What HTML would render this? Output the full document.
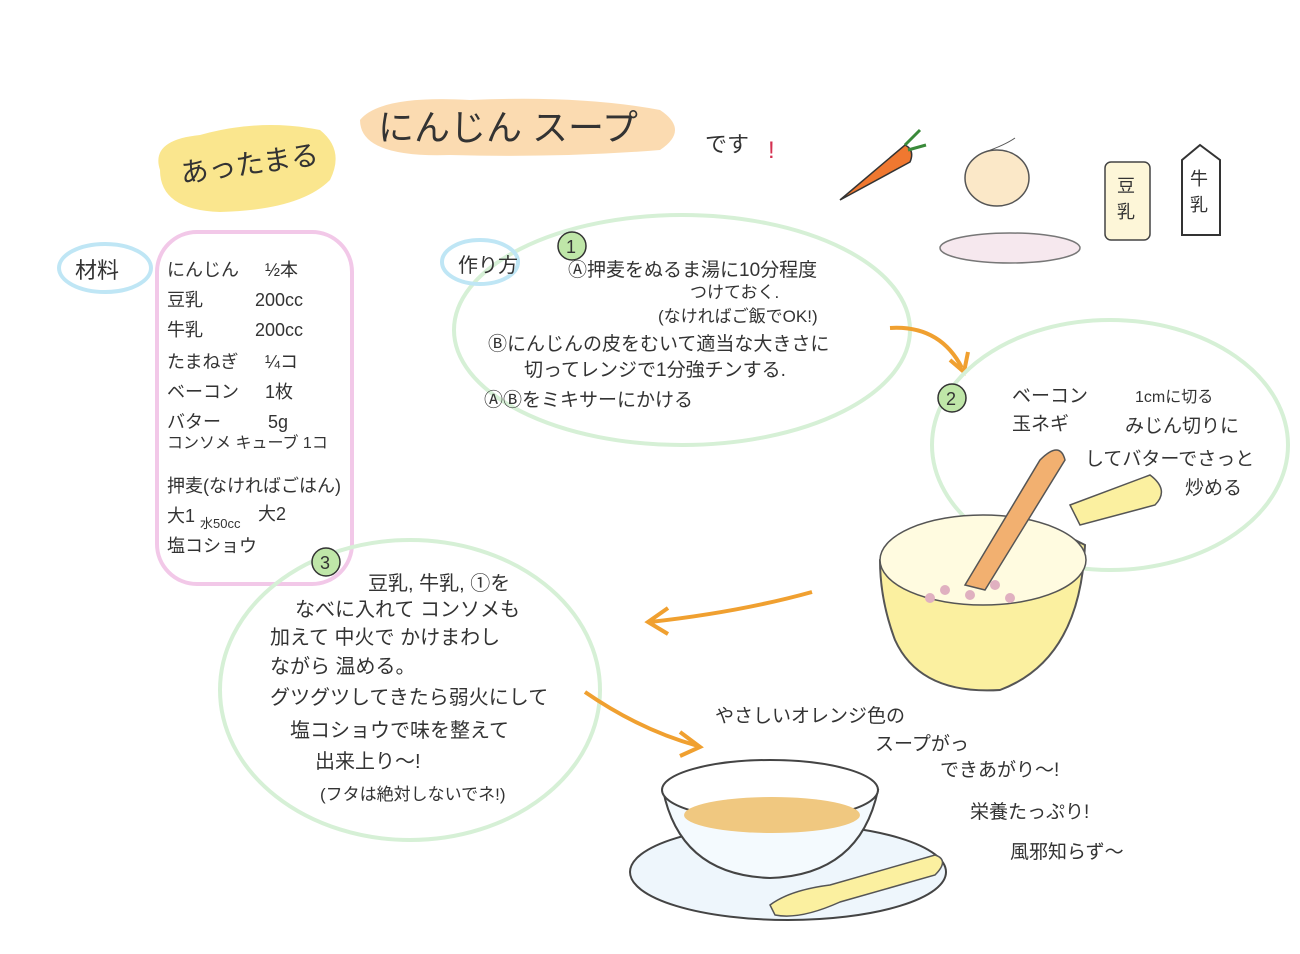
<!DOCTYPE html>
<html><head><meta charset="utf-8"><style>
html,body{margin:0;padding:0;background:#fff;}
svg{display:block}
text{font-family:"Liberation Sans","Noto Sans CJK JP",sans-serif;fill:#333;}
</style></head><body>
<svg width="1300" height="954" viewBox="0 0 1300 954" xmlns="http://www.w3.org/2000/svg">
<rect width="1300" height="954" fill="#fff"/>
<!-- title blobs -->
<path d="M160 170 Q150 140 200 135 Q260 118 320 130 Q345 150 330 180 Q300 210 220 212 Q160 210 160 170Z" fill="#f9e27a" opacity="0.85"/>
<text x="180" y="175" font-size="28" transform="rotate(-8 240 165)">あったまる</text>
<path d="M360 120 Q380 95 470 100 Q580 95 660 110 Q690 130 660 150 Q560 158 450 155 Q360 158 360 120Z" fill="#fbd7a8" opacity="0.9"/>
<text x="378" y="140" font-size="36">にんじん スープ</text>
<text x="705" y="152" font-size="22">です</text>
<text x="768" y="158" font-size="24" fill="#d43050" style="fill:#d43050">!</text>
<!-- carrot -->
<path d="M840 200 L905 145 Q915 150 910 162 Z" fill="#f07830" stroke="#333" stroke-width="1.5"/>
<path d="M905 145 l15 -15 M908 150 l18 -5" stroke="#3a8a3a" stroke-width="3"/>
<!-- onion -->
<ellipse cx="997" cy="178" rx="32" ry="28" fill="#fbe8c8" stroke="#555" stroke-width="1.5"/>
<path d="M985 152 Q1005 145 1015 138" stroke="#555" fill="none"/>
<!-- boxes -->
<rect x="1105" y="162" width="45" height="78" rx="6" fill="#fdf6d8" stroke="#444" stroke-width="1.5"/>
<text x="1117" y="192" font-size="18">豆</text><text x="1117" y="218" font-size="18">乳</text>
<path d="M1182 160 L1200 145 L1220 160 L1220 235 L1182 235Z" fill="#fff" stroke="#333" stroke-width="2"/>
<text x="1190" y="185" font-size="18">牛</text><text x="1190" y="211" font-size="18">乳</text>
<ellipse cx="1010" cy="248" rx="70" ry="15" fill="#f6e8ee" stroke="#777" stroke-width="1.5"/>
<!-- ingredients -->
<ellipse cx="105" cy="268" rx="46" ry="24" fill="none" stroke="#bfe6f5" stroke-width="4"/>
<text x="75" y="278" font-size="22">材料</text>
<rect x="157" y="232" width="195" height="352" rx="40" fill="none" stroke="#f2c8e8" stroke-width="4"/>
<g font-size="18">
<text x="167" y="276">にんじん</text><text x="265" y="276">½本</text>
<text x="167" y="306">豆乳</text><text x="255" y="306">200cc</text>
<text x="167" y="336">牛乳</text><text x="255" y="336">200cc</text>
<text x="167" y="368">たまねぎ</text><text x="265" y="368">¼コ</text>
<text x="167" y="398">ベーコン</text><text x="265" y="398">1枚</text>
<text x="167" y="428">バター</text><text x="268" y="428">5g</text>
<text x="167" y="448" font-size="16">コンソメ キューブ 1コ</text>
<text x="167" y="492">押麦(なければごはん)</text>
<text x="167" y="522">大1</text><text x="200" y="528" font-size="13">水50cc</text><text x="258" y="520">大2</text>
<text x="167" y="552">塩コショウ</text>
</g>
<!-- step1 -->
<ellipse cx="682" cy="330" rx="228" ry="115" fill="none" stroke="#d6f0d6" stroke-width="4"/>
<ellipse cx="480" cy="262" rx="38" ry="22" fill="none" stroke="#bfe6f5" stroke-width="4"/>
<text x="458" y="272" font-size="20">作り方</text>
<circle cx="572" cy="246" r="14" fill="#bfe6a8" stroke="#333" stroke-width="1.5"/><text x="566" y="253" font-size="18">1</text>
<g font-size="19">
<text x="568" y="276">Ⓐ押麦をぬるま湯に10分程度</text>
<text x="690" y="298" font-size="17">つけておく.</text>
<text x="658" y="322" font-size="17">(なければご飯でOK!)</text>
<text x="488" y="350">Ⓑにんじんの皮をむいて適当な大きさに</text>
<text x="524" y="376">切ってレンジで1分強チンする.</text>
<text x="484" y="406">ⒶⒷをミキサーにかける</text>
</g>
<!-- arrow 1->2 -->
<path d="M890 328 Q940 325 962 368" stroke="#f0a030" stroke-width="4" fill="none"/>
<path d="M950 360 L964 372 L968 352" stroke="#f0a030" stroke-width="4" fill="none"/>
<!-- step2 -->
<ellipse cx="1110" cy="445" rx="178" ry="125" fill="none" stroke="#d6f0d6" stroke-width="4"/>
<circle cx="952" cy="398" r="14" fill="#bfe6a8" stroke="#333" stroke-width="1.5"/><text x="946" y="405" font-size="18">2</text>
<g font-size="19">
<text x="1012" y="402">ベーコン</text><text x="1135" y="402" font-size="16">1cmに切る</text>
<text x="1012" y="430">玉ネギ</text><text x="1125" y="432">みじん切りに</text>
<text x="1085" y="465">してバターでさっと</text>
<text x="1185" y="494">炒める</text>
</g>
<!-- pot -->
<path d="M1070 505 L1150 475 Q1170 490 1155 505 L1080 525Z" fill="#fbf0a0" stroke="#555" stroke-width="1.5"/>
<path d="M880 560 Q980 490 1085 545 Q1080 660 1000 690 Q920 695 895 640 Q880 600 880 560Z" fill="#fbf0a0" stroke="#555" stroke-width="2"/>
<ellipse cx="983" cy="560" rx="103" ry="45" fill="#fffbe0" stroke="#555" stroke-width="1.5"/>
<g fill="#e0b0c0"><circle cx="945" cy="590" r="5"/><circle cx="970" cy="595" r="5"/><circle cx="995" cy="585" r="5"/><circle cx="1010" cy="598" r="5"/><circle cx="930" cy="598" r="5"/></g>
<path d="M965 585 L1040 460 Q1060 440 1065 460 L985 590Z" fill="#f2b070" stroke="#555" stroke-width="1.5"/>
<!-- arrow 2->3 -->
<path d="M812 592 Q740 612 650 622" stroke="#f0a030" stroke-width="4" fill="none"/>
<path d="M668 608 L648 622 L668 634" stroke="#f0a030" stroke-width="4" fill="none"/>
<!-- step3 -->
<ellipse cx="410" cy="690" rx="190" ry="150" fill="none" stroke="#d6f0d6" stroke-width="4"/>
<circle cx="326" cy="562" r="14" fill="#bfe6a8" stroke="#333" stroke-width="1.5"/><text x="320" y="569" font-size="18">3</text>
<g font-size="20">
<text x="368" y="590">豆乳, 牛乳, ①を</text>
<text x="295" y="616">なべに入れて コンソメも</text>
<text x="270" y="644">加えて 中火で かけまわし</text>
<text x="270" y="673">ながら 温める。</text>
<text x="270" y="704">グツグツしてきたら弱火にして</text>
<text x="290" y="737">塩コショウで味を整えて</text>
<text x="315" y="768">出来上り〜!</text>
<text x="320" y="800" font-size="17">(フタは絶対しないでネ!)</text>
</g>
<path d="M585 692 Q640 730 698 746" stroke="#f0a030" stroke-width="4" fill="none"/>
<path d="M680 732 L700 747 L680 756" stroke="#f0a030" stroke-width="4" fill="none"/>
<g font-size="19">
<text x="715" y="722">やさしいオレンジ色の</text>
<text x="875" y="750">スープがっ</text>
<text x="940" y="776">できあがり〜!</text>
<text x="970" y="818">栄養たっぷり!</text>
<text x="1010" y="858">風邪知らず〜</text>
</g>
<!-- bowl -->
<ellipse cx="788" cy="872" rx="158" ry="48" fill="#eef6fc" stroke="#444" stroke-width="2"/>
<path d="M663 790 Q680 875 770 878 Q860 875 878 790Z" fill="#f4fafe" stroke="#444" stroke-width="2"/>
<ellipse cx="770" cy="790" rx="108" ry="30" fill="#fff" stroke="#444" stroke-width="2"/>
<ellipse cx="772" cy="815" rx="88" ry="18" fill="#f0c880"/>
<path d="M770 905 Q790 890 830 885 L935 855 Q950 860 935 875 L840 902 Q800 920 775 915Z" fill="#fbf0a0" stroke="#555" stroke-width="1.5"/>
</svg>
</body></html>
